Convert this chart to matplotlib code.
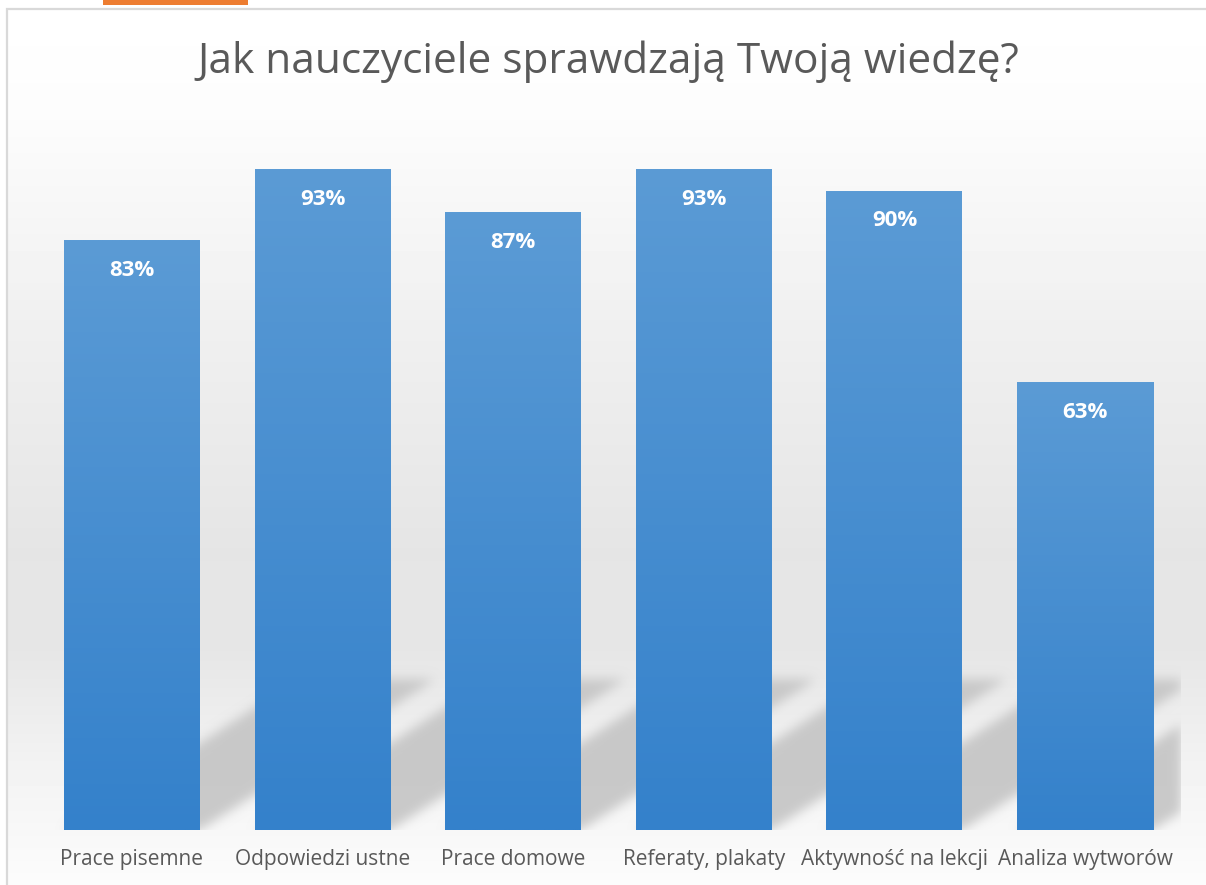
import numpy as np
import matplotlib
matplotlib.use("Agg")
import matplotlib.pyplot as plt
from matplotlib.colors import LinearSegmentedColormap
from matplotlib.patches import Rectangle

# dane z wykresu
kategorie = ["Prace pisemne", "Odpowiedzi ustne", "Prace domowe",
             "Referaty, plakaty", "Aktywność na lekcji", "Analiza wytworów"]
wartosci = [83, 93, 87, 93, 90, 63]
tytul = "Jak nauczyciele sprawdzają Twoją wiedzę?"

plt.rcParams['font.family'] = ['Open Sans', 'DejaVu Sans']

W, H = 1206, 885
fig = plt.figure(figsize=(W / 100, H / 100), dpi=100)
fig.patch.set_facecolor("white")

# tlo z gradientem (ramka wykresu)
fx0 = 7 / W
ftop = 1 - 9 / H
bg = fig.add_axes([fx0, 0, 1 - fx0, ftop], zorder=0)
py = np.arange(9, H)
stops_y = [9, 120, 300, 550, 650, 760, 885]
stops_v = [255, 252, 241, 229, 230, 242, 252]
g = np.interp(py, stops_y, stops_v) / 255.0
grad_bg = np.repeat(g[:, None], 64, axis=1)
bg.imshow(grad_bg, cmap="gray", vmin=0, vmax=1, aspect="auto",
          extent=(0, 1, 0, 1), interpolation="nearest")
bg.set_axis_off()

# ramka i pomaranczowy pasek
fig.patches.append(Rectangle((fx0, -0.02), 1.2, ftop + 0.02, fill=False,
                             edgecolor="#d9d9d9", lw=1.6,
                             transform=fig.transFigure, zorder=1))
fig.patches.append(Rectangle((103 / W, 1 - 5 / H), 145 / W, 0.02,
                             facecolor="#ed7d31", edgecolor="none",
                             transform=fig.transFigure, zorder=1))

# glowny wykres
left, right = 36.7 / W, 1180.3 / W
bottom, top = (H - 830) / H, (H - 120) / H
ax = fig.add_axes([left, bottom, right - left, top - bottom], zorder=2)
ax.patch.set_alpha(0)

x = np.arange(len(kategorie))
szer = 136 / 190.6
bars = ax.bar(x, wartosci, width=szer, color="none", zorder=3)

# cien perspektywiczny za slupkami
sh_h = 150 / 7.1        # wysokosc cienia w jednostkach osi y
sh_skew = 234 / 190.6   # przesuniecie w jednostkach osi x
nx, ny = 1200, 190
ymax_sh = ny / 7.1
xs = np.linspace(-0.5, len(kategorie) - 0.5, nx)
ys = np.linspace(0, ymax_sh, ny)
X, Y = np.meshgrid(xs, ys)
mask = np.zeros_like(X)
for r in bars:
    xc = r.get_x() + r.get_width() / 2
    shift = Y / sh_h * sh_skew
    inside = (Y <= sh_h) & (np.abs(X - xc - shift) <= r.get_width() / 2)
    mask[inside] = 1.0

sig = 5.5
k = np.arange(-16, 17)
kern = np.exp(-k ** 2 / (2 * sig ** 2))
kern /= kern.sum()
mask = np.apply_along_axis(lambda v: np.convolve(v, kern, mode="same"), 1, mask)
mask = np.apply_along_axis(lambda v: np.convolve(v, kern, mode="same"), 0, mask)
rgba = np.zeros((ny, nx, 4))
rgba[..., :3] = 0.77
rgba[..., 3] = np.clip(mask, 0, 1) * 0.9
ax.imshow(rgba, extent=(xs[0], xs[-1], 0, ymax_sh), origin="lower",
          aspect="auto", interpolation="bilinear", zorder=1)

# slupki z gradientem
cmap = LinearSegmentedColormap.from_list("blu", ["#3481cb", "#5b9bd5"])
grad = np.linspace(0, 1, 256)[:, None]
for r in bars:
    ax.imshow(grad, cmap=cmap, extent=(r.get_x(), r.get_x() + r.get_width(),
                                       0, r.get_height()),
              origin="lower", aspect="auto", interpolation="bilinear", zorder=3)

# etykiety wartosci
for r, v in zip(bars, wartosci):
    ax.annotate(f"{v}%", (r.get_x() + r.get_width() / 2, r.get_height()),
                xytext=(0, -21.5), textcoords="offset points",
                ha="center", va="center", color="white",
                fontsize=16, fontweight="bold", zorder=4)

ax.set_xlim(-0.5, len(kategorie) - 0.5)
ax.set_ylim(0, 100)
ax.set_xticks(x)
ax.set_xticklabels(kategorie, fontsize=15, color="#595959")
ax.tick_params(axis="x", length=0, pad=14)
ax.set_yticks([])
for s in ["top", "left", "right", "bottom"]:
    ax.spines[s].set_visible(False)

fig.text(608 / W, 1 - 62 / H, tytul, ha="center", va="center",
         fontsize=30.5, color="#595959", zorder=5)

fig.savefig("out.png", dpi=100)
